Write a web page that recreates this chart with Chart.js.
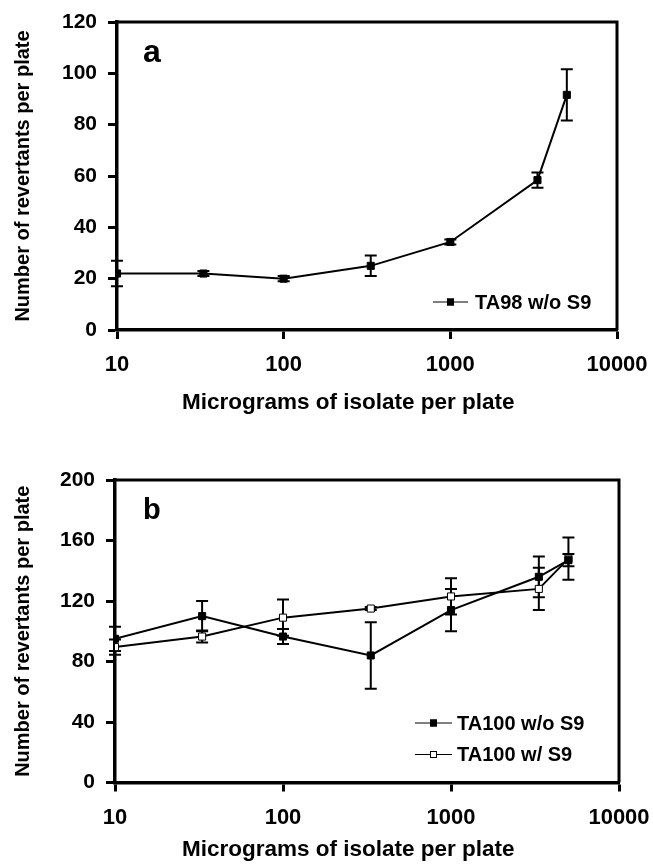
<!DOCTYPE html>
<html><head><meta charset="utf-8">
<script src="https://cdn.jsdelivr.net/npm/chart.js@4.4.1/dist/chart.umd.min.js"></script>
<style>
html,body{margin:0;padding:0;background:#fff;}
#wrap{position:relative;width:653px;height:868px;background:#fff;}
canvas{position:absolute;left:0;}
</style></head><body>
<div id="wrap">
<canvas id="ca" width="653" height="434" style="top:0px"></canvas>
<canvas id="cb" width="653" height="434" style="top:434px"></canvas>
</div>
<script>
// ---------- data ----------
const doses = [10, 33, 100, 333, 1000, 3333, 5000];
const xTickValues = [10, 100, 1000, 10000];
const yTicksA = [0, 20, 40, 60, 80, 100, 120];
const yTicksB = [0, 40, 80, 120, 160, 200];

const ta98Label = 'TA98 w/o S9';
const ta98Mean = [22, 22, 20, 25, 34.3, 58.4, 91.6];
const ta98Err  = [5, 1, 1, 4, 1, 3, 10];

const ta100woLabel = 'TA100 w/o S9';
const ta100woMean = [95, 110, 96.5, 84, 114, 136, 147];
const ta100woErr  = [8, 10, 5, 22, 14, 13.5, 4];

const ta100wLabel = 'TA100 w/ S9';
const ta100wMean = [89.5, 96.5, 109, 115, 123, 128, 148];
const ta100wErr  = [5, 4, 12, 1, 12, 14, 14];

const xTitle = 'Micrograms of isolate per plate';
const yTitle = 'Number of revertants per plate';

// ---------- helpers ----------
const FONT = "'Liberation Sans', Arial, Helvetica, sans-serif";

function pts(xs, ys){ return xs.map((x,i)=>({x:x, y:ys[i]})); }

const errorBarPlugin = {
  id: 'errorBars',
  beforeDatasetsDraw(chart){
    const ctx = chart.ctx;
    const xs = chart.scales.x, ys = chart.scales.y;
    ctx.save();
    ctx.strokeStyle = '#000';
    ctx.lineWidth = 2;
    chart.data.datasets.forEach(ds=>{
      if(!ds.errors) return;
      ds.data.forEach((p,i)=>{
        const e = ds.errors[i];
        const px = xs.getPixelForValue(p.x);
        const yt = ys.getPixelForValue(p.y + e);
        const yb = ys.getPixelForValue(p.y - e);
        ctx.beginPath();
        ctx.moveTo(px, yt); ctx.lineTo(px, yb);
        ctx.moveTo(px-6, yt); ctx.lineTo(px+6, yt);
        ctx.moveTo(px-6, yb); ctx.lineTo(px+6, yb);
        ctx.stroke();
      });
    });
    ctx.restore();
  }
};

const framePlugin = {
  id: 'frame',
  beforeDatasetsDraw(chart, args, opts){
    const {ctx, chartArea:a} = chart;
    ctx.save();
    ctx.strokeStyle = '#000';
    ctx.lineWidth = 3;
    ctx.beginPath();
    ctx.moveTo(a.left, a.top); ctx.lineTo(a.right, a.top); ctx.lineTo(a.right, a.bottom);
    ctx.stroke();
    // panel letter
    ctx.fillStyle = '#000';
    ctx.font = 'bold ' + opts.letterSize + 'px ' + FONT;
    ctx.textBaseline = 'alphabetic';
    ctx.textAlign = 'left';
    ctx.fillText(opts.letter, a.left + opts.letterDx, a.top + opts.letterDy);
    ctx.restore();
  }
};

const legendPlugin = {
  id: 'lineLegend',
  afterDraw(chart, args, opts){
    const ctx = chart.ctx;
    ctx.save();
    chart.data.datasets.forEach((ds, i)=>{
      const y = opts.y + i*opts.gap;
      ctx.strokeStyle = '#000';
      ctx.lineWidth = 1;
      ctx.beginPath();
      ctx.moveTo(opts.x0, y); ctx.lineTo(opts.x1, y);
      ctx.stroke();
      const cx = (opts.x0 + opts.x1)/2, s = 7;
      ctx.fillStyle = ds.pointBackgroundColor;
      ctx.fillRect(cx - s/2, y - s/2, s, s);
      ctx.strokeRect(cx - s/2 + 0.5, y - s/2 + 0.5, s - 1, s - 1);
      ctx.fillStyle = '#000';
      ctx.font = 'bold 20px ' + FONT;
      ctx.textBaseline = 'middle';
      ctx.textAlign = 'left';
      ctx.fillText(ds.label, opts.textX, y + 1);
    });
    ctx.restore();
  }
};

function makeDataset(label, mean, err, fill){
  return {
    label: label,
    data: pts(doses, mean),
    errors: err,
    borderColor: '#000',
    borderWidth: 2,
    pointStyle: 'rect',
    pointRadius: 5,
    pointHoverRadius: 5,
    pointBackgroundColor: fill,
    pointBorderColor: '#000',
    pointBorderWidth: 1,
    tension: 0,
    fill: false
  };
}

function makeOptions(cfg){
  return {
    responsive: false,
    animation: false,
    devicePixelRatio: 1,
    events: [],
    layout: { padding: cfg.padding },
    plugins: {
      legend: { display: false },
      tooltip: { enabled: false },
      frame: cfg.frame,
      lineLegend: cfg.legend
    },
    scales: {
      x: {
        type: 'logarithmic',
        min: 10, max: 10000,
        afterBuildTicks: s => { s.ticks = xTickValues.map(v=>({value:v})); },
        afterFit: s => { s.height = cfg.xHeight; s.paddingLeft = 0; s.paddingRight = 0; },
        ticks: {
          autoSkip: false, maxRotation: 0, padding: 13, color: '#000',
          font: { family: FONT, size: 22, weight: 'bold' },
          callback: v => String(v)
        },
        grid: { drawOnChartArea: false, drawTicks: true, tickLength: 9, tickColor: '#000', tickWidth: 3 },
        border: { display: true, color: '#000', width: 3.5 },
        title: {
          display: true, text: xTitle + '      ', color: '#000',
          font: { family: FONT, size: 22.5, weight: 'bold', lineHeight: 1 },
          padding: { top: 0, bottom: cfg.xTitlePad }
        }
      },
      y: {
        type: 'linear',
        min: cfg.yTicks[0], max: cfg.yTicks[cfg.yTicks.length-1],
        afterBuildTicks: s => { s.ticks = cfg.yTicks.map(v=>({value:v})); },
        afterFit: s => { s.width = cfg.yWidth; s.paddingTop = 0; s.paddingBottom = 0; },
        ticks: {
          padding: 11, color: '#000',
          font: { family: FONT, size: 21, weight: 'bold' }
        },
        grid: { drawOnChartArea: false, drawTicks: true, tickLength: 9, tickColor: '#000', tickWidth: 3 },
        border: { display: true, color: '#000', width: 3.5 },
        title: {
          display: true, text: yTitle, color: '#000',
          font: { family: FONT, size: 20, weight: 'bold', lineHeight: 1 },
          padding: { top: 13, bottom: 0 }
        }
      }
    }
  };
}

const plugins = [errorBarPlugin, framePlugin, legendPlugin];

new Chart(document.getElementById('ca'), {
  type: 'line',
  data: { datasets: [ makeDataset(ta98Label, ta98Mean, ta98Err, '#000') ] },
  options: makeOptions({
    padding: { left: 0, right: 36, top: 22, bottom: 0 },
    xHeight: 104, yWidth: 117, xTitlePad: 20, yTicks: yTicksA,
    frame: { letter: 'a', letterSize: 32, letterDx: 26, letterDy: 40 },
    legend: { x0: 433, x1: 468, textX: 475, y: 302, gap: 32 }
  }),
  plugins: plugins
});

new Chart(document.getElementById('cb'), {
  type: 'line',
  data: { datasets: [
    makeDataset(ta100woLabel, ta100woMean, ta100woErr, '#000'),
    makeDataset(ta100wLabel, ta100wMean, ta100wErr, '#fff')
  ] },
  options: makeOptions({
    padding: { left: 0, right: 34, top: 46, bottom: 0 },
    xHeight: 85.5, yWidth: 115, xTitlePad: 6.5, yTicks: yTicksB,
    frame: { letter: 'b', letterSize: 29, letterDx: 28, letterDy: 39 },
    legend: { x0: 415, x1: 452, textX: 457, y: 289, gap: 31.5 }
  }),
  plugins: plugins
});
</script>
</body></html>
